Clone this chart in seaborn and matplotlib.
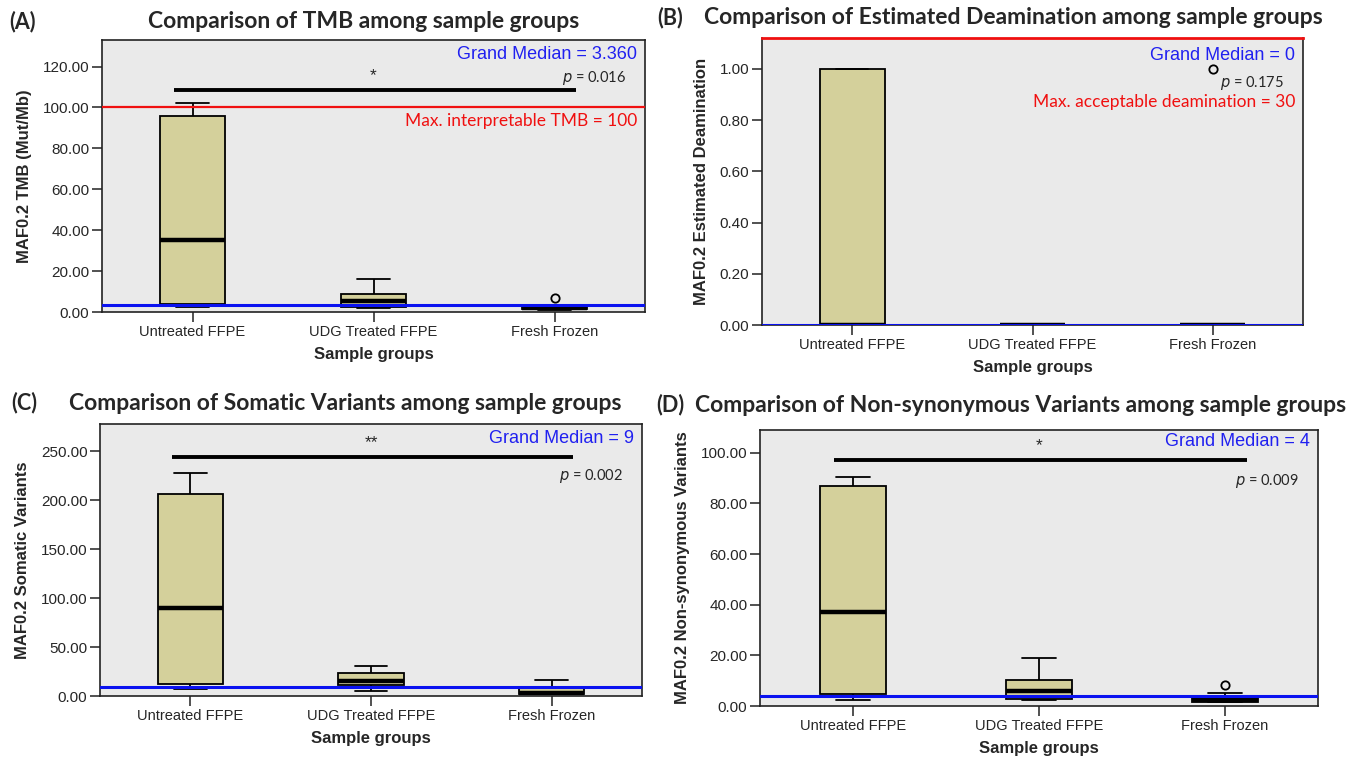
import numpy as np
import pandas as pd
import matplotlib
matplotlib.use("Agg")
import matplotlib.pyplot as plt
import matplotlib.transforms as mtransforms
import seaborn as sns

groups = ["Untreated FFPE", "UDG Treated FFPE", "Fresh Frozen"]

# per-sample values (whisker ends, hinges, medians, outliers)
tmb_untreated = [2.4, 3.8, 35.0, 96.0, 102.0]
tmb_udg = [2.0, 2.6, 5.2, 8.8, 15.9]
tmb_fresh = [1.1, 1.2, 1.4, 1.8, 2.0, 2.8, 3.4, 3.6, 7.0]

deam_untreated = [0, 0, 0, 1, 1]
deam_udg = [0, 0, 0, 0, 0]
deam_fresh = [0, 0, 0, 0, 1]

som_untreated = [6.8, 12.3, 90.4, 206.8, 227.7]
som_udg = [5.0, 11.0, 15.8, 23.3, 30.5]
som_fresh = [1.7, 1.7, 3.0, 8.6, 16.4]

ns_untreated = [2.2, 4.8, 37.2, 86.7, 90.6]
ns_udg = [2.2, 2.9, 6.1, 10.2, 19.0]
ns_fresh = [1.5, 1.6, 1.7, 1.9, 2.2, 3.0, 3.9, 5.0, 8.1]

grand_medians = [3.360, 0, 9, 4]
grand_median_txt = ["3.360", "0", "9", "4"]
ref_lines = [100, 30, None, None]
p_values = ["0.016", "0.175", "0.002", "0.009"]
stars = ["*", None, "**", "*"]

titles = ["Comparison of TMB among sample groups",
          "Comparison of Estimated Deamination among sample groups",
          "Comparison of Somatic Variants among sample groups",
          "Comparison of Non-synonymous Variants among sample groups"]
letters = ["(A)", "(B)", "(C)", "(D)"]
ylabels = ["MAF0.2 TMB (Mut/Mb)", "MAF0.2 Estimated Deamination",
           "MAF0.2 Somatic Variants", "MAF0.2 Non-synonymous Variants"]
yticks = [np.arange(0, 121, 20), np.arange(0, 1.01, 0.2),
          np.arange(0, 251, 50), np.arange(0, 101, 20)]
ylims = [(0, 133), (0, 1.12), (0, 278), (0, 109)]


def long_df(a, b, c):
    return pd.DataFrame({
        "group": [groups[0]] * len(a) + [groups[1]] * len(b) + [groups[2]] * len(c),
        "value": list(a) + list(b) + list(c),
    })


data = [long_df(tmb_untreated, tmb_udg, tmb_fresh),
        long_df(deam_untreated, deam_udg, deam_fresh),
        long_df(som_untreated, som_udg, som_fresh),
        long_df(ns_untreated, ns_udg, ns_fresh)]

sns.set_style("white")
plt.rcParams["font.family"] = ["Liberation Sans", "DejaVu Sans"]

W, H = 1357, 759
fig = plt.figure(figsize=(W / 100, H / 100), dpi=100)


def rect(l, t, r, b):
    return [l / W, 1 - b / H, (r - l) / W, (b - t) / H]


boxes = [rect(102, 40, 645, 312), rect(762, 38, 1303, 325),
         rect(100, 424, 642, 696), rect(760, 430, 1318, 706)]
title_pos = [(364, 22), (1013, 18), (345, 403), (1021, 405)]
letter_pos = [(9, 22), (657, 18), (11, 403), (656, 405)]

# text rows (data units) for annotations in each panel
gm_y = [126, 1.05, 263, 104.5]
p_y = [114.5, 0.946, 225, 88.7]
ref_y = [93.4, 0.87, None, None]
bar_y = [108.5, None, 244, 97.1]

box_fill = "#D4D09B"
bg = "#EAEAEA"
title_font = ["Lato", "DejaVu Sans"]

for i, ax_rect in enumerate(boxes):
    ax = fig.add_axes(ax_rect)
    ax.set_facecolor(bg)
    sns.boxplot(data=data[i], x="group", y="value", order=groups, ax=ax,
                width=0.36, color=box_fill, saturation=1, linecolor="black",
                linewidth=1.3, whis=1.5,
                medianprops=dict(linewidth=3.2, color="black"),
                flierprops=dict(marker="o", markersize=6, markerfacecolor="none",
                                markeredgecolor="black", markeredgewidth=1.3))
    ax.set_xlim(-0.5, 2.5)
    ax.set_ylim(*ylims[i])
    ax.set_yticks(yticks[i])
    ax.set_yticklabels([f"{v:.2f}" for v in yticks[i]])
    for s in ax.spines.values():
        s.set_linewidth(1.2)
        s.set_color("#222222")
    ax.tick_params(axis="y", labelsize=11)
    ax.tick_params(axis="x", labelsize=10.5)
    ax.tick_params(axis="both", direction="out", length=7, width=1.1,
                   color="#222222", pad=2, left=True, bottom=True)
    ax.set_xlabel("Sample groups", fontsize=12, fontweight="bold", labelpad=6)
    ax.set_ylabel(ylabels[i], fontsize=12, fontweight="bold", labelpad=8)

    ax.axhline(grand_medians[i], color="#0A12F0", lw=2.2, zorder=6)
    if ref_lines[i] is not None:
        if ref_lines[i] < ylims[i][1]:
            ax.axhline(ref_lines[i], color="#F01010", lw=1.6, zorder=6)
        else:
            ax.spines["top"].set_color("#F01010")
            ax.spines["top"].set_linewidth(2)

    tr = mtransforms.blended_transform_factory(ax.transAxes, ax.transData)
    ax.text(0.985, gm_y[i], f"Grand Median = {grand_median_txt[i]}", transform=tr,
            ha="right", va="center", color="#2020F0", fontsize=13, zorder=7)
    ax.text(0.965, p_y[i], r"$p$ = " + p_values[i], transform=tr, ha="right",
            va="center", fontsize=10.5, family=["Lato", "DejaVu Sans"], zorder=7)
    if ref_y[i] is not None:
        ax.text(0.985, ref_y[i], f"Max. {'interpretable TMB' if i == 0 else 'acceptable deamination'} = {ref_lines[i]}",
                transform=tr, ha="right", va="center", color="#F01010",
                fontsize=12.5, family=["Lato", "DejaVu Sans"], zorder=7)
    if bar_y[i] is not None:
        ax.plot([-0.1, 2.12], [bar_y[i], bar_y[i]], color="black", lw=2.8,
                solid_capstyle="butt", zorder=7)
        ax.text(1, bar_y[i] + (ylims[i][1] * 0.025), stars[i], ha="center",
                va="bottom", fontsize=12.5, zorder=7)

    tx, ty = title_pos[i]
    fig.text(tx / W, 1 - ty / H, titles[i], ha="center", va="center",
             fontsize=16.5, fontweight="bold", family=title_font)
    lx, ly = letter_pos[i]
    fig.text(lx / W, 1 - ly / H, letters[i], ha="left", va="center",
             fontsize=15.5, fontweight="bold", family=title_font)

fig.savefig("out.png", dpi=100, facecolor="white")
